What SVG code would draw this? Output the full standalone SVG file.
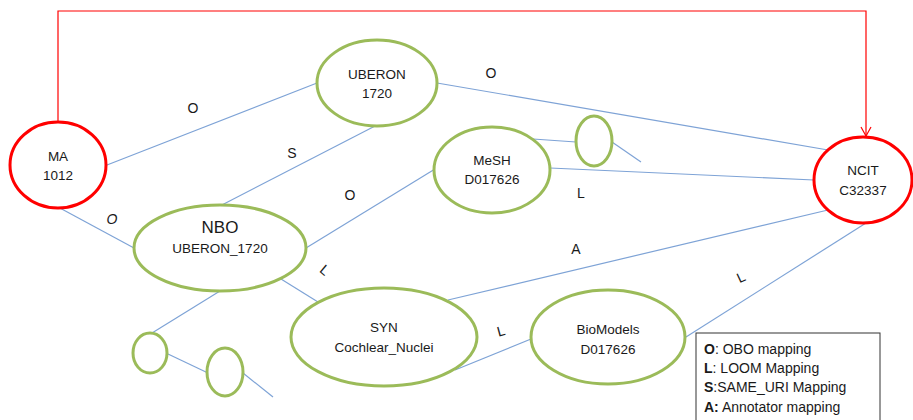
<svg xmlns="http://www.w3.org/2000/svg" width="913" height="420" viewBox="0 0 913 420">
<style>
.g{fill:#fff;stroke:#9bbb59;stroke-width:3}
.r{fill:#fff;stroke:#ff0000;stroke-width:3}
.c{stroke:#7ea3d6;stroke-width:1.2;fill:none}
text{font-family:"Liberation Sans",Arial,sans-serif;font-size:13.5px;fill:#1a1a1a;text-anchor:middle}
.lb{font-size:14px}
.lg{text-anchor:start;font-size:14px}
</style>
<defs>
<marker id="ah" markerWidth="12" markerHeight="12" refX="10" refY="6" orient="auto" markerUnits="userSpaceOnUse">
<path d="M1,1 L10,6 L1,11" fill="none" stroke="#ff0000" stroke-width="1.2"/>
</marker>
</defs>
<rect width="913" height="420" fill="#fff"/>
<g id="connectors">
<polyline points="58,122 58,11 866,11 866,136" fill="none" stroke="#ff0000" stroke-width="1.2" marker-end="url(#ah)"/>
<line class="c" x1="107" y1="165" x2="317" y2="83"/>
<line class="c" x1="377" y1="125" x2="218" y2="207"/>
<line class="c" x1="58" y1="207" x2="134" y2="248"/>
<line class="c" x1="306" y1="248" x2="435" y2="169"/>
<line class="c" x1="437" y1="83" x2="828" y2="150"/>
<line class="c" x1="533" y1="139" x2="576" y2="142"/>
<line class="c" x1="612" y1="142" x2="641" y2="162"/>
<line class="c" x1="550" y1="168" x2="814" y2="180"/>
<line class="c" x1="281" y1="279" x2="318" y2="302"/>
<line class="c" x1="220" y1="291" x2="152" y2="333"/>
<line class="c" x1="168" y1="354" x2="208" y2="373"/>
<line class="c" x1="243" y1="373" x2="273" y2="397"/>
<line class="c" x1="448" y1="300" x2="828" y2="210"/>
<line class="c" x1="455" y1="370" x2="531" y2="339"/>
<line class="c" x1="686" y1="337" x2="866" y2="223"/>
<text class="lb" x="193" y="113">O</text>
<text class="lb" x="292" y="158">S</text>
<text class="lb" x="350" y="200">O</text>
<text class="lb" x="491" y="78">O</text>
<text class="lb" x="581" y="198">L</text>
<text class="lb" x="112" y="224" font-style="italic">O</text>
<text class="lb" x="0" y="5" transform="translate(325,270) rotate(40)">L</text>
<text class="lb" x="576" y="254">A</text>
<text class="lb" x="0" y="5" transform="translate(501,331) rotate(-15)">L</text>
<text class="lb" x="0" y="5" transform="translate(741,277) rotate(-25)">L</text>
</g>
<g id="MA"><ellipse class="r" cx="58" cy="165" rx="48" ry="43"/><text x="58" y="161">MA</text><text x="58" y="180">1012</text></g>
<g id="UBERON"><ellipse class="g" cx="377" cy="83" rx="60" ry="43"/><text x="377" y="79">UBERON</text><text x="377" y="98">1720</text></g>
<g id="MeSH"><ellipse class="g" cx="492" cy="170" rx="58" ry="43"/><text x="492" y="165">MeSH</text><text x="492" y="184">D017626</text></g>
<g id="small1"><ellipse class="g" cx="594" cy="141" rx="18" ry="25"/></g>
<g id="NCIT"><ellipse class="r" cx="863" cy="180" rx="49" ry="43"/><text x="863" y="175">NCIT</text><text x="863" y="195">C32337</text></g>
<g id="NBO"><ellipse class="g" cx="220" cy="248" rx="86" ry="43"/><text x="220" y="233" style="font-size:17px">NBO</text><text x="220" y="253">UBERON_1720</text></g>
<g id="small2"><ellipse class="g" cx="150" cy="353" rx="17" ry="20"/></g>
<g id="small3"><ellipse class="g" cx="225" cy="372" rx="18" ry="24"/></g>
<g id="SYN"><ellipse class="g" cx="384" cy="337" rx="93" ry="49"/><text x="384" y="332">SYN</text><text x="384" y="352">Cochlear_Nuclei</text></g>
<g id="BioModels"><ellipse class="g" cx="608" cy="337" rx="77" ry="47"/><text x="608" y="334">BioModels</text><text x="608" y="354">D017626</text></g>
<g id="legend">
<rect x="696" y="333" width="184" height="92" fill="#fff" stroke="#333" stroke-width="1"/>
<text class="lg" x="704" y="354"><tspan font-weight="bold">O</tspan>: OBO mapping</text>
<text class="lg" x="704" y="373"><tspan font-weight="bold">L</tspan>: LOOM Mapping</text>
<text class="lg" x="704" y="392"><tspan font-weight="bold">S</tspan>:SAME_URI Mapping</text>
<text class="lg" x="704" y="412"><tspan font-weight="bold">A:</tspan> Annotator mapping</text>
</g>
</svg>
